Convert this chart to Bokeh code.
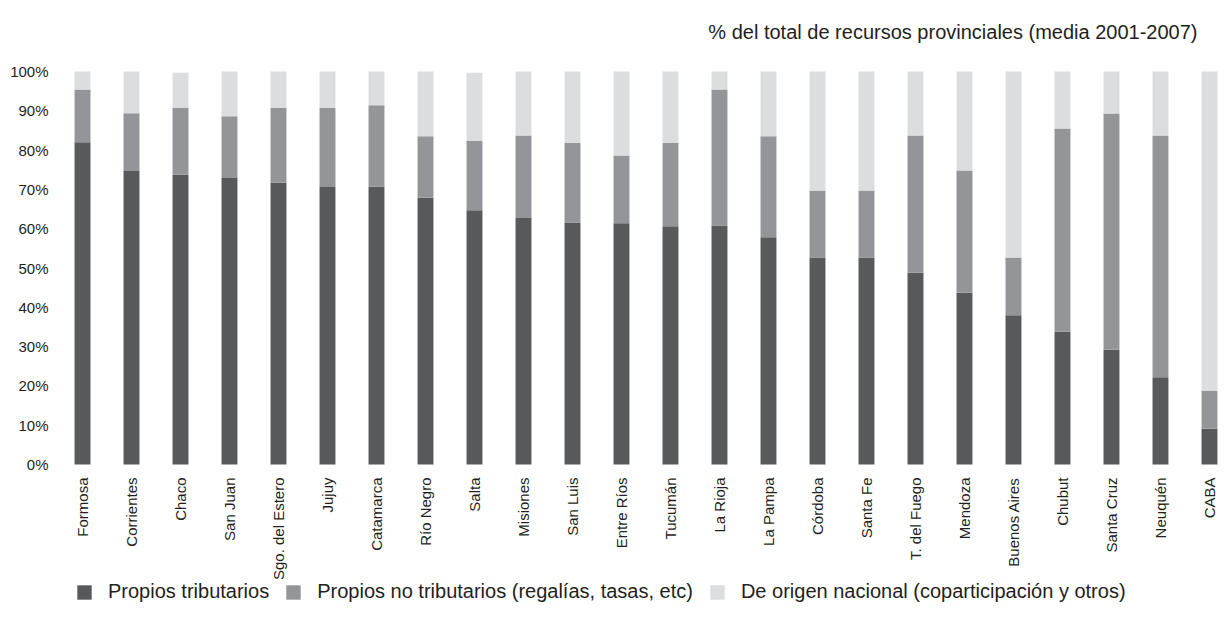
from math import pi
from bokeh.plotting import figure
from bokeh.models import (Range1d, FixedTicker, Legend, LegendItem, Label,
                          ColumnDataSource)
from bokeh.core.properties import value
from bokeh.embed import file_html
from bokeh.resources import INLINE

provinces = ["Formosa", "Corrientes", "Chaco", "San Juan", "Sgo. del Estero",
             "Jujuy", "Catamarca", "Río Negro", "Salta", "Misiones",
             "San Luis", "Entre Ríos", "Tucumán", "La Rioja", "La Pampa",
             "Córdoba", "Santa Fe", "T. del Fuego", "Mendoza", "Buenos Aires",
             "Chubut", "Santa Cruz", "Neuquén", "CABA"]
tributarios = [82.0, 74.7, 73.7, 72.9, 71.7, 70.6, 70.7, 67.9, 64.7, 62.7,
               61.6, 61.4, 60.6, 60.8, 57.8, 52.7, 52.7, 48.8, 43.7, 38.0,
               33.8, 29.2, 22.2, 9.1]
no_tributarios = [13.4, 14.7, 17.0, 15.7, 19.0, 20.1, 20.7, 15.6, 17.7, 21.0,
                  20.2, 17.2, 21.2, 34.6, 25.7, 17.0, 17.0, 34.9, 31.1, 14.7,
                  51.7, 60.1, 61.5, 9.7]
nacional = [4.6, 10.6, 9.0, 11.4, 9.3, 9.3, 8.6, 16.5, 17.3, 16.3,
            18.2, 21.4, 18.2, 4.6, 16.5, 30.3, 30.3, 16.3, 25.2, 47.3,
            14.5, 10.7, 16.3, 81.2]
y_ticks = [0, 10, 20, 30, 40, 50, 60, 70, 80, 90, 100]
y_tick_labels = [f"{t}%" for t in y_ticks]
series_names = ["Propios tributarios",
                "Propios no tributarios (regalías, tasas, etc)",
                "De origen nacional (coparticipación y otros)"]
subtitle = "% del total de recursos provinciales (media 2001-2007)"

colors = ["#58595b", "#939598", "#dcdddf"]
TEXT = "#231f20"
FONT = "Liberation Sans"

xs = list(range(len(provinces)))
source = ColumnDataSource(dict(x=xs, name=provinces, trib=tributarios,
                               notrib=no_tributarios, nac=nacional))

p = figure(width=1218, height=603, output_backend="svg", toolbar_location=None,
           x_range=Range1d(-0.4898, 23.184), y_range=Range1d(-35.37, 118.07),
           x_axis_location=None,
           min_border_left=58, min_border_right=0, min_border_top=0,
           min_border_bottom=0)

rs = p.vbar_stack(["trib", "notrib", "nac"], x="x", width=0.325,
                  color=colors, line_color=None, source=source)

# category labels under each bar
p.text(x="x", y=0, text="name", source=source, angle=pi / 2,
       y_offset=13, text_align="right", text_baseline="middle",
       text_font=value(FONT), text_font_size="15px", text_color=TEXT)

p.xgrid.visible = False
p.ygrid.visible = False
p.outline_line_color = None

ya = p.yaxis[0]
ya.ticker = FixedTicker(ticks=y_ticks)
ya.major_label_overrides = {t: l for t, l in zip(y_ticks, y_tick_labels)}
ya.axis_line_color = None
ya.major_tick_line_color = None
ya.minor_tick_line_color = None
ya.major_label_standoff = 4
ya.major_label_text_font = FONT
ya.major_label_text_font_size = "15px"
ya.major_label_text_color = TEXT

legend = Legend(items=[LegendItem(label=n, renderers=[r])
                       for n, r in zip(series_names, rs)],
                orientation="horizontal", location=(17, 0),
                padding=0, margin=0, spacing=15, label_standoff=15,
                glyph_width=18, glyph_height=18, label_height=18,
                border_line_color=None, background_fill_alpha=0,
                label_text_font=FONT, label_text_font_size="20px",
                label_text_color=TEXT)
p.add_layout(legend, "center")

p.add_layout(Label(x=1139, y=572, x_units="screen", y_units="screen",
                   text=subtitle, text_align="right", text_baseline="middle",
                   text_font=FONT, text_font_size="20px", text_color=TEXT))

open("out.html", "w").write(file_html(p, INLINE))
